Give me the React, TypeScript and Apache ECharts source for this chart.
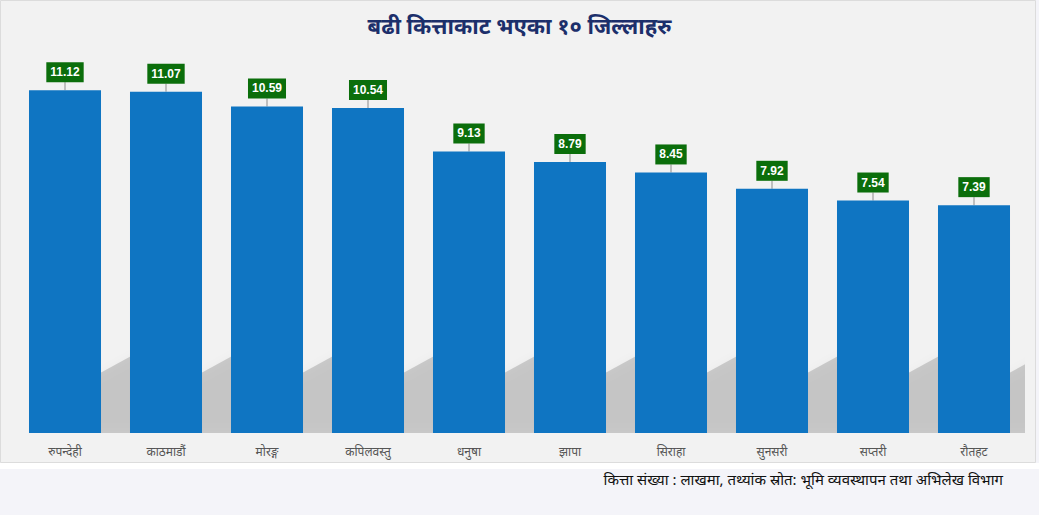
import React, { useEffect, useRef } from "react";
import * as echarts from "echarts";

const titleText = "बढी कित्ताकाट भएका १० जिल्लाहरु";
const sourceText = "कित्ता संख्या : लाखमा, तथ्यांक स्रोत: भूमि व्यवस्थापन तथा अभिलेख विभाग";
const districts = ["रुपन्देही", "काठमाडौं", "मोरङ्ग", "कपिलवस्तु", "धनुषा", "झापा", "सिराहा", "सुनसरी", "सप्तरी", "रौतहट"];
const parcels = [11.12, 11.07, 10.59, 10.54, 9.13, 8.79, 8.45, 7.92, 7.54, 7.39];

const FONT = "'Noto Sans', 'Liberation Sans', sans-serif";

export default function App() {
  const ref = useRef<HTMLDivElement>(null);
  useEffect(() => {
    if (!ref.current) return;
    const chart = echarts.init(ref.current, null, { renderer: "svg" });
    chart.setOption({
      animation: false,
      backgroundColor: "#f4f4f9",
      graphic: [
        { type: "rect", z: -10, shape: { x: 0.5, y: 0.5, width: 1035, height: 462 }, style: { fill: "#f2f2f2", stroke: "#dcdcdc", lineWidth: 1 } },
        { type: "rect", z: -10, shape: { x: 0, y: 463, width: 1039, height: 6 }, style: { fill: "#ffffff" } },
        {
          type: "text", left: "center", top: 14,
          style: { text: titleText, fill: "#1c2f6b", font: `bold 22px ${FONT}` },
        },
        {
          type: "text", right: 36, top: 471,
          style: { text: sourceText, fill: "#111", font: `15px ${FONT}` },
        },
      ],
      grid: { left: 14.5, right: 14.5, top: 63, bottom: 82 },
      xAxis: {
        type: "category",
        data: districts,
        axisLine: { show: false },
        axisTick: { show: false },
        axisLabel: { color: "#555", fontSize: 12, margin: 12, fontFamily: FONT },
      },
      yAxis: { type: "value", min: 0, max: 12, show: false, splitLine: { show: false } },
      series: [
        {
          type: "custom",
          z: 1,
          clip: true,
          data: parcels,
          renderItem: (params: any, api: any) => {
            const c = api.coord([api.value(0), 0]);
            const bw = api.size([1, 0])[0];
            const half = (bw * 0.713) / 2;
            const xR = c[0] + half;
            const b = c[1];
            const gap = bw - 2 * half;
            return {
              type: "polygon",
              shape: {
                points: [
                  [xR - 10, b],
                  [xR - 10, b - 55],
                  [xR + gap + 14, b - 84],
                  [xR + gap + 14, b],
                ],
              },
              style: { fill: "rgba(0,0,0,0.16)", shadowBlur: 10, shadowColor: "rgba(0,0,0,0.16)" },
            };
          },
        },
        {
          type: "bar",
          z: 2,
          data: parcels,
          barCategoryGap: "28.7%",
          itemStyle: { color: "#0f75c2" },
          label: {
            show: true,
            position: "top",
            distance: 0,
            color: "#ffffff",
            fontWeight: "bold",
            fontSize: 12,
            fontFamily: "'Liberation Sans', Arial, sans-serif",
            backgroundColor: "#0b6e0b",
            padding: [4, 4, 4, 4],
          },
          labelLayout: { dy: -8 },
          labelLine: { show: true, lineStyle: { color: "#8c8c8c", width: 1 } },
        },
      ],
    });
    return () => chart.dispose();
  }, []);
  return <div ref={ref} style={{ position: "fixed", left: 0, top: 0, width: 1039, height: 515 }} />;
}
